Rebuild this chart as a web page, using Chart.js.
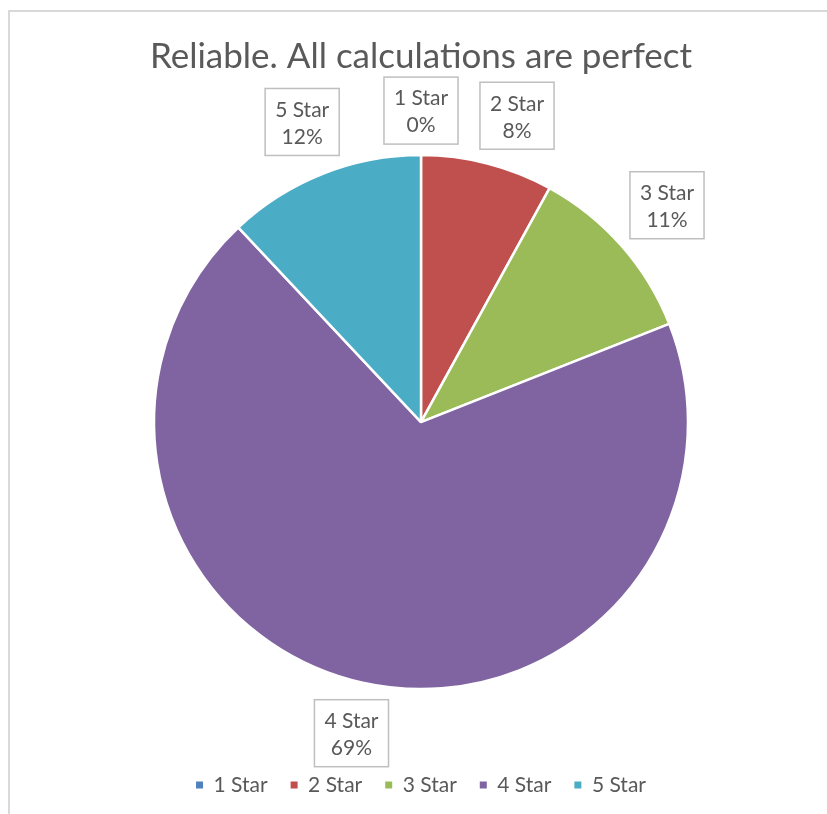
<!DOCTYPE html>
<html>
<head>
<meta charset="utf-8">
<script src="https://cdn.jsdelivr.net/npm/chart.js@4.4.1/dist/chart.umd.min.js"></script>
<style>
  html, body { margin: 0; padding: 0; background: #fff; overflow: hidden; }
  #wrap { position: relative; width: 827px; height: 814px; }
</style>
</head>
<body>
<div id="wrap"><canvas id="ratingChart"></canvas></div>
<script>
// star ratings and their share of answers (percent)
var categories = ['1 Star', '2 Star', '3 Star', '4 Star', '5 Star'];
var shares = [0, 8, 11, 69, 12];
var sliceColors = ['#4F81BD', '#C0504D', '#9BBB59', '#8064A2', '#4BACC6'];
var chartTitle = 'Reliable. All calculations are perfect';

var fontFamily = 'Lato, "Open Sans", sans-serif';
var textColor = '#595959';

// thin grey frame along the top and left of the chart area
var frame = {
  id: 'frame',
  beforeDraw: function(chart) {
    var ctx = chart.ctx;
    ctx.save();
    ctx.strokeStyle = '#d9d9d9';
    ctx.lineWidth = 2;
    ctx.beginPath();
    ctx.moveTo(9, chart.height);
    ctx.lineTo(9, 11);
    ctx.lineTo(chart.width, 11);
    ctx.stroke();
    ctx.restore();
  }
};

function boxesOverlap(a, b, gap) {
  return a.x - gap < b.x + b.w && b.x - gap < a.x + a.w &&
         a.y - gap < b.y + b.h && b.y - gap < a.y + a.h;
}

// boxed "name / percent" labels placed just outside each slice,
// nudged clockwise when they would crowd an earlier label
var labelBoxes = {
  id: 'labelBoxes',
  afterDatasetsDraw: function(chart) {
    var ctx = chart.ctx;
    var meta = chart.getDatasetMeta(0);
    var data = chart.data.datasets[0].data;
    var total = data.reduce(function(a, b) { return a + b; }, 0);
    var placed = [];
    ctx.save();
    ctx.font = '21px ' + fontFamily;
    ctx.textAlign = 'center';
    ctx.textBaseline = 'middle';
    meta.data.forEach(function(arc, i) {
      var p = arc.getProps(['x', 'y', 'startAngle', 'endAngle', 'outerRadius'], true);
      var lines = [chart.data.labels[i], Math.round(data[i] / total * 100) + '%'];
      var w = Math.max(ctx.measureText(lines[0]).width, ctx.measureText(lines[1]).width) + 20;
      var h = 67;
      var angle = (p.startAngle + p.endAngle) / 2;
      var box;
      for (var step = 0; step < 60; step++) {
        var dx = Math.cos(angle), dy = Math.sin(angle);
        var dist = p.outerRadius + 11 + Math.abs(dx) * w / 2 + Math.abs(dy) * h / 2;
        var cx = p.x + dx * dist, cy = p.y + dy * dist;
        box = { x: cx - w / 2, y: cy - h / 2, w: w, h: h, cx: cx, cy: cy };
        var crowded = placed.some(function(other) { return boxesOverlap(box, other, 20); });
        if (!crowded) break;
        angle += Math.PI / 360;
      }
      placed.push(box);
      ctx.fillStyle = '#fff';
      ctx.fillRect(box.x, box.y, w, h);
      ctx.strokeStyle = '#bfbfbf';
      ctx.lineWidth = 1.5;
      ctx.strokeRect(box.x, box.y, w, h);
      ctx.fillStyle = textColor;
      ctx.fillText(lines[0], box.cx, box.cy - 12);
      ctx.fillText(lines[1], box.cx, box.cy + 15);
    });
    ctx.restore();
  }
};

var ctx = document.getElementById('ratingChart').getContext('2d');

new Chart(ctx, {
  type: 'pie',
  data: {
    labels: categories,
    datasets: [{
      data: shares,
      backgroundColor: sliceColors,
      borderColor: '#ffffff',
      borderWidth: 2.5,
      radius: 267
    }]
  },
  options: {
    responsive: true,
    maintainAspectRatio: false,
    animation: false,
    layout: { padding: { left: 15, right: 0, top: 0, bottom: 8.4 } },
    plugins: {
      title: {
        display: true,
        text: chartTitle,
        color: textColor,
        font: { family: fontFamily, size: 35, weight: 'normal' },
        padding: { top: 36, bottom: 14.6 }
      },
      legend: {
        position: 'bottom',
        labels: {
          color: textColor,
          font: { family: fontFamily, size: 21 },
          boxWidth: 7,
          boxHeight: 7,
          padding: 23,
          generateLabels: function(chart) {
            var items = Chart.overrides.pie.plugins.legend.labels.generateLabels(chart);
            return items.map(function(item) {
              item.lineWidth = 0;
              item.hidden = false;
              return item;
            });
          }
        }
      },
      tooltip: { enabled: false }
    }
  },
  plugins: [frame, labelBoxes]
});
</script>
</body>
</html>
